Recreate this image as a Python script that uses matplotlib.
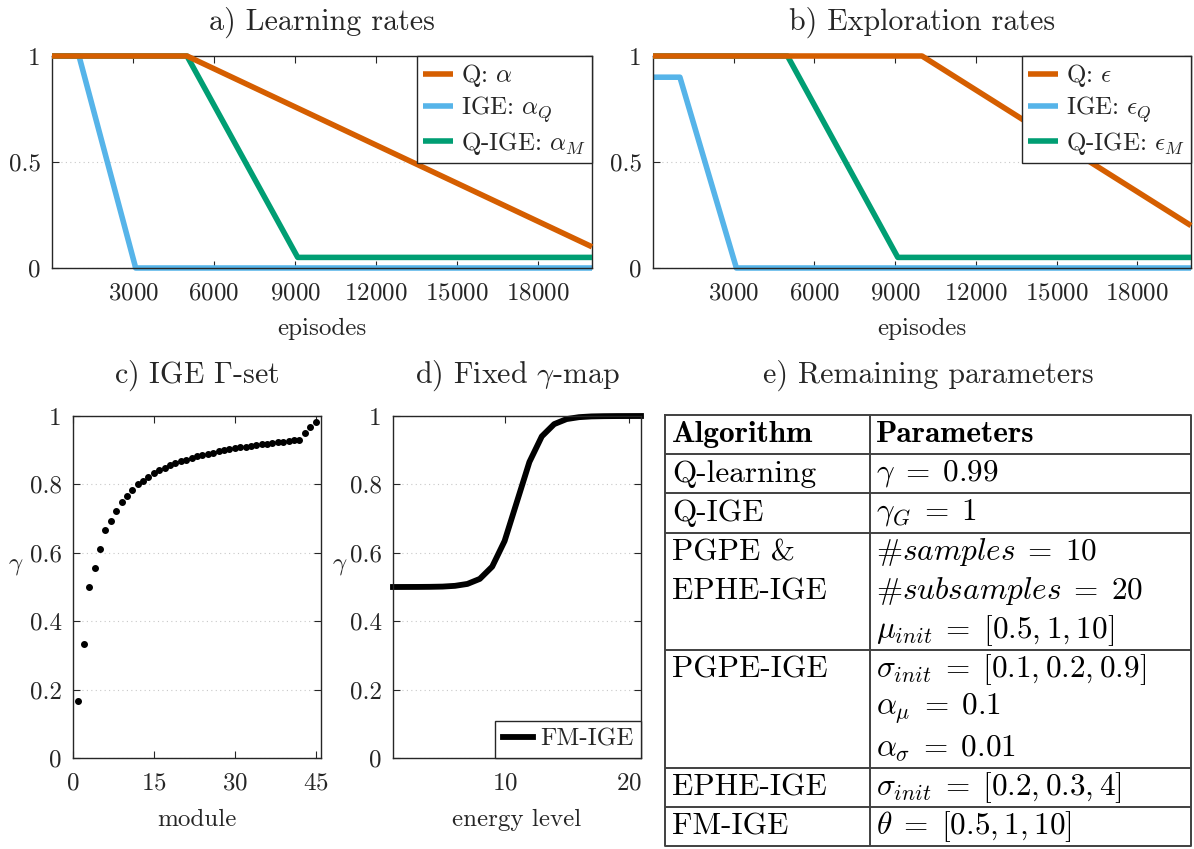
import numpy as np
import matplotlib.pyplot as plt

plt.rcParams["font.family"] = ["cmr10", "DejaVu Serif"]
plt.rcParams["mathtext.fontset"] = "cm"
plt.rcParams["axes.formatter.use_mathtext"] = True
plt.rcParams["font.size"] = 18

# schedules (episode breakpoints, value)
ep_q_alpha = [0, 5000, 20000]
q_alpha = [1, 1, 0.1]
ep_ige_alpha = [0, 1000, 3100, 20000]
ige_alpha = [1, 1, 0, 0]
ep_qige_alpha = [0, 5000, 9100, 20000]
qige_alpha = [1, 1, 0.05, 0.05]

ep_q_eps = [0, 10000, 20000]
q_eps = [1, 1, 0.2]
ep_ige_eps = [0, 1000, 3100, 20000]
ige_eps = [0.9, 0.9, 0, 0]
ep_qige_eps = [0, 5000, 9100, 20000]
qige_eps = [1, 1, 0.05, 0.05]

# IGE gamma set, one value per module
modules = np.arange(1, 46)
gamma_set = [0.167, 0.333, 0.5, 0.556, 0.611, 0.667, 0.694, 0.722, 0.75, 0.766,
             0.783, 0.8, 0.811, 0.823, 0.833, 0.841, 0.848, 0.856, 0.862, 0.867,
             0.872, 0.877, 0.882, 0.886, 0.89, 0.893, 0.897, 0.9, 0.903, 0.905,
             0.908, 0.91, 0.913, 0.915, 0.917, 0.919, 0.921, 0.923, 0.925, 0.927,
             0.929, 0.931, 0.949, 0.967, 0.983]

# fixed gamma map over energy levels
energy = np.arange(1, 22)
gamma_map = [0.5, 0.5001, 0.5002, 0.5005, 0.5012, 0.5034, 0.509, 0.5237, 0.5596,
             0.6345, 0.75, 0.8655, 0.9404, 0.9763, 0.991, 0.9966, 0.9988, 0.9995,
             0.9998, 0.9999, 1.0]

algorithms = ["Q-learning", "Q-IGE", "PGPE &\nEPHE-IGE", "PGPE-IGE", "EPHE-IGE", "FM-IGE"]
parameters = [
    [r"$\gamma\;=\;0.99$"],
    [r"$\gamma_G\;=\;1$"],
    [r"#$samples\;=\;10$", r"#$subsamples\;=\;20$", r"$\mu_{init}\;=\;[0.5, 1, 10]$"],
    [r"$\sigma_{init}\;=\;[0.1, 0.2, 0.9]$", r"$\alpha_\mu\;=\;0.1$", r"$\alpha_\sigma\;=\;0.01$"],
    [r"$\sigma_{init}\;=\;[0.2, 0.3, 4]$"],
    [r"$\theta\;=\;[0.5, 1, 10]$"],
]

c_orange = "#D55E00"
c_blue = "#56B4E9"
c_green = "#009E73"
dark = "#262626"

W, H = 1194, 849
fig = plt.figure(figsize=(W / 100, H / 100), dpi=100)


def px_axes(x0, y0, x1, y1):
    return fig.add_axes([x0 / W, 1 - y1 / H, (x1 - x0) / W, (y1 - y0) / H])


def style(ax):
    for s in ax.spines.values():
        s.set_color(dark)
        s.set_linewidth(1.0)
    ax.tick_params(direction="in", top=True, right=True, colors=dark,
                   labelcolor=dark, length=5, width=0.8, labelsize=18)
    ax.tick_params(axis="x", pad=10)
    ax.tick_params(axis="y", pad=8)
    ax.yaxis.grid(True, linestyle=(0, (1, 3)), color="#c8c8c8", linewidth=0.8)
    ax.set_axisbelow(True)


def schedule_panel(ax, series, title):
    handles = []
    for (xs, ys, col, lab, z) in series:
        h, = ax.plot(xs, ys, color=col, lw=4, label=lab, zorder=z,
                     clip_on=False, solid_capstyle="butt")
        handles.append(h)
    style(ax)
    ax.set_xlim(0, 20000)
    ax.set_ylim(0, 1)
    ax.set_xticks(np.arange(3000, 20000, 3000))
    ax.set_yticks([0, 0.5, 1])
    ax.set_yticklabels(["0", "0.5", "1"])
    ax.set_xlabel("episodes", color=dark, labelpad=10)
    ax.set_title(title, color=dark, pad=19)
    leg = ax.legend(handles=handles, loc="upper right", borderaxespad=0,
                    handlelength=1.2, handletextpad=0.3, fancybox=False,
                    framealpha=1, edgecolor=dark, borderpad=0.25,
                    labelspacing=0.2, fontsize=18)
    leg.get_frame().set_linewidth(1.0)
    leg.set_zorder(10)
    for t in leg.get_texts():
        t.set_color(dark)


ax_a = px_axes(52, 56, 592, 268)
schedule_panel(ax_a, [
    (ep_q_alpha, q_alpha, c_orange, r"Q: $\alpha$", 4),
    (ep_ige_alpha, ige_alpha, c_blue, r"IGE: $\alpha_Q$", 2),
    (ep_qige_alpha, qige_alpha, c_green, r"Q-IGE: $\alpha_M$", 3),
], "a) Learning rates")

ax_b = px_axes(653, 56, 1191, 268)
schedule_panel(ax_b, [
    (ep_q_eps, q_eps, c_orange, r"Q: $\epsilon$", 4),
    (ep_ige_eps, ige_eps, c_blue, r"IGE: $\epsilon_Q$", 2),
    (ep_qige_eps, qige_eps, c_green, r"Q-IGE: $\epsilon_M$", 3),
], "b) Exploration rates")

# c) gamma set
ax_c = px_axes(73, 416, 321, 758)
ax_c.plot(modules, gamma_set, "o", color="black", markersize=4, clip_on=False)
style(ax_c)
ax_c.set_xlim(0, 46)
ax_c.set_ylim(0, 1)
ax_c.set_xticks([0, 15, 30, 45])
ax_c.set_yticks(np.arange(0, 1.01, 0.2))
ax_c.set_yticklabels(["0", "0.2", "0.4", "0.6", "0.8", "1"])
ax_c.set_xlabel("module", color=dark, labelpad=11)
ax_c.set_ylabel(r"$\gamma$", rotation=0, color=dark)
ax_c.yaxis.set_label_coords(-0.23, 0.53)
ax_c.set_title(r"c) IGE $\Gamma$-set", color=dark, pad=24)

# d) fixed gamma map
ax_d = px_axes(393, 416, 641, 758)
ax_d.plot(energy, gamma_map, color="black", lw=4.2, label="FM-IGE", clip_on=False)
style(ax_d)
ax_d.set_xlim(1, 21)
ax_d.set_ylim(0, 1)
ax_d.set_xticks([10, 20])
ax_d.set_yticks(np.arange(0, 1.01, 0.2))
ax_d.set_yticklabels(["0", "0.2", "0.4", "0.6", "0.8", "1"])
ax_d.set_xlabel("energy level", color=dark, labelpad=11)
ax_d.set_ylabel(r"$\gamma$", rotation=0, color=dark)
ax_d.yaxis.set_label_coords(-0.215, 0.53)
ax_d.set_title(r"d) Fixed $\gamma$-map", color=dark, pad=24)
leg = ax_d.legend(loc="lower right", borderaxespad=0, handlelength=1.2,
                  handletextpad=0.3, fancybox=False, framealpha=1,
                  edgecolor=dark, borderpad=0.3, fontsize=18)
leg.get_frame().set_linewidth(1.0)
for t in leg.get_texts():
    t.set_color(dark)

# e) parameter table
ax_e = px_axes(665, 415, 1191, 846)
n_lines = 1 + sum(len(p) for p in parameters)
ax_e.set_xlim(0, 1)
ax_e.set_ylim(n_lines, 0)
ax_e.axis("off")
ax_e.set_title("e) Remaining parameters", color=dark, pad=23)
col_split = 0.39
tx0, tx1 = 0.013, col_split + 0.011
lc = "#404040"
fs = 22.5
ax_e.plot([0, 1, 1, 0, 0], [0, 0, n_lines, n_lines, 0], color=lc, lw=1.4,
          clip_on=False)
ax_e.plot([col_split, col_split], [0, n_lines], color=lc, lw=1.4)
ax_e.text(tx0, 0.5, "Algorithm", family="cmb10", fontsize=fs, va="center")
ax_e.text(tx1, 0.5, "Parameters", family="cmb10", fontsize=fs, va="center")
row = 1
for alg, pars in zip(algorithms, parameters):
    ax_e.plot([0, 1], [row, row], color=lc, lw=1.4)
    for i, line in enumerate(alg.split("\n")):
        ax_e.text(tx0, row + i + 0.5, line, fontsize=fs, va="center")
    for i, p in enumerate(pars):
        ax_e.text(tx1, row + i + 0.5, p, fontsize=fs, va="center")
    row += len(pars)

fig.savefig("out.png", dpi=100)
